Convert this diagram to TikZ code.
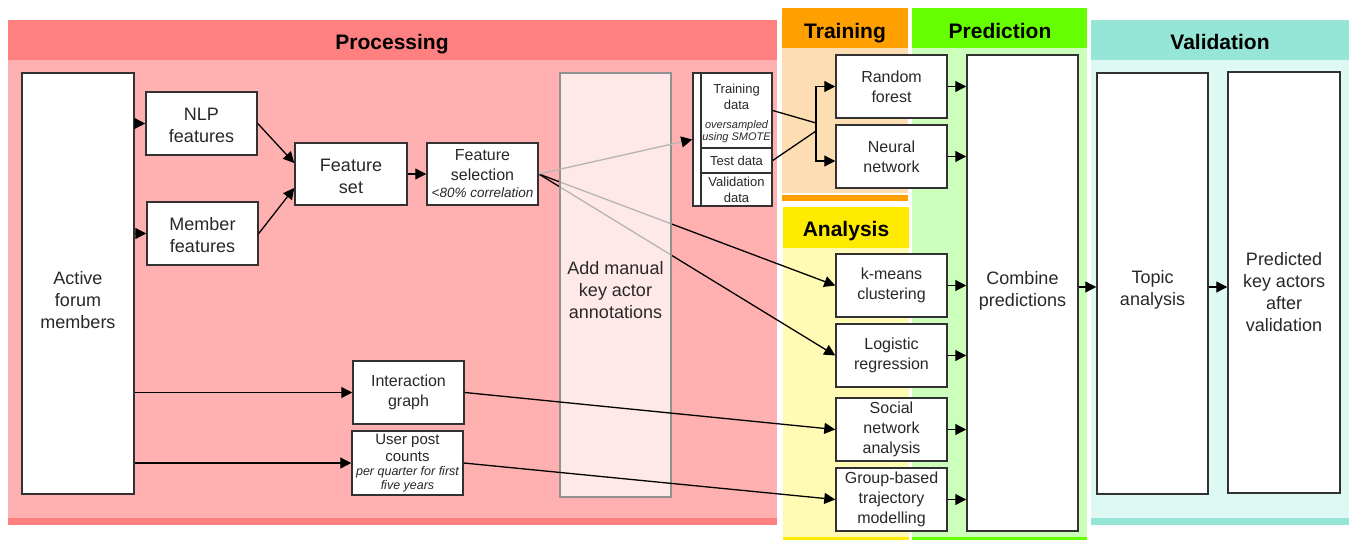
\documentclass[tikz,border=0pt]{standalone}
\usepackage{fontspec}
\setmainfont{Liberation Sans}
\usetikzlibrary{arrows.meta}
\newcommand{\smallnote}[2]{{\fontsize{#1}{#1}\selectfont\itshape #2}}
\begin{document}
\begin{tikzpicture}[x=1pt,y=-1pt,
  box/.style={draw=col_box, line width=1.5pt, fill=white, inner sep=0pt, align=center, text=col_text, font=\fontsize{16}{20}\selectfont},
  bigbox/.style={box, font=\fontsize{18}{22}\selectfont},
  cell/.style={box, font=\fontsize{13}{16}\selectfont},
  flow/.style={line width=1.3pt, -{Triangle[length=11pt,width=11pt]}},
  wire/.style={line width=1.3pt},
  head/.style={font=\bfseries\fontsize{21}{24}\selectfont}]
\useasboundingbox (0,0) rectangle (1349,540);
\definecolor{col_box}{RGB}{50, 50, 50}
\definecolor{col_text}{RGB}{40, 40, 40}
\definecolor{col_faint}{RGB}{181, 181, 181}
\definecolor{col_proc_head}{RGB}{255, 128, 128}
\definecolor{col_proc_body}{RGB}{255, 176, 176}
\definecolor{col_train_head}{RGB}{255, 160, 0}
\definecolor{col_train_body}{RGB}{253, 222, 178}
\definecolor{col_ana_head}{RGB}{255, 235, 0}
\definecolor{col_ana_body}{RGB}{255, 250, 180}
\definecolor{col_pred_head}{RGB}{102, 255, 0}
\definecolor{col_pred_body}{RGB}{204, 255, 187}
\definecolor{col_val_head}{RGB}{150, 230, 215}
\definecolor{col_val_body}{RGB}{222, 248, 243}
% panels
\fill[col_proc_body] (8,60) rectangle (777,518);
\fill[col_proc_head] (8,20) rectangle (777,60);
\fill[col_proc_head] (8,518) rectangle (777,525);
\node[head] (h proc) at (392,44) {Processing};
\fill[col_train_body] (782,48) rectangle (908,193);
\fill[col_train_head] (782,8) rectangle (908,48);
\fill[col_train_head] (782,195) rectangle (908,201);
\node[head] (h train) at (845,33) {Training};
\fill[col_ana_body] (783,248) rectangle (909,537);
\fill[col_ana_head] (783,207) rectangle (909,248);
\fill[col_ana_head] (783,537) rectangle (909,540);
\node[head] (h ana) at (846,231) {Analysis};
\fill[col_pred_body] (912,48) rectangle (1087,537);
\fill[col_pred_head] (912,8) rectangle (1087,48);
\fill[col_pred_head] (912,537) rectangle (1087,540);
\node[head] (h pred) at (1000,31) {Prediction};
\fill[col_val_body] (1091,60) rectangle (1349,518);
\fill[col_val_head] (1091,20) rectangle (1349,60);
\fill[col_val_head] (1091,518) rectangle (1349,525);
\node[head] (h val) at (1220,42) {Validation};
% processing
\node[bigbox, minimum width=112, minimum height=421] (active) at (78,283.5) {\rule{0pt}{47pt}Active\\forum\\members};
\node[bigbox, minimum width=111, minimum height=63] (nlp) at (201.5,123.5) {\rule{0pt}{17pt}NLP\\features};
\node[bigbox, minimum width=111, minimum height=63] (member) at (202.5,233.5) {\rule{0pt}{17pt}Member\\features};
\node[bigbox, minimum width=112, minimum height=62] (fset) at (351,174) {\rule{0pt}{17pt}Feature\\set};
\node[box, minimum width=111, minimum height=62] (fsel) at (482.5,174) {Feature\\selection\\[-3pt]\smallnote{13.5}{<80\% correlation}};
\node[box, minimum width=111, minimum height=63] (igraph) at (408.5,392.5) {Interaction\\graph};
\node[box, font=\fontsize{15}{17}\selectfont, minimum width=111, minimum height=64] (upc) at (407.5,463) {User post\\counts\\[-3pt]\smallnote{12.5}{per quarter for first}\\[-3pt]\smallnote{12.5}{five years}};
\node[box, minimum width=79, minimum height=133] (dbox) at (732.5,139.5) {};
\node[cell, minimum width=71, minimum height=75] (dtrain) at (736.5,110.5) {\rule{0pt}{15pt}Training\\data\\[3pt]\smallnote{11}{oversampled}\\[-4pt]\smallnote{11}{using SMOTE}};
\node[cell, minimum width=71, minimum height=25] (dtest) at (736.5,160.5) {Test data};
\node[cell, minimum width=71, minimum height=33] (dvalid) at (736.5,189.5) {Validation\\data};
% training, analysis, prediction, validation
\node[box, minimum width=111, minimum height=63] (rf) at (891.5,86.5) {Random\\forest};
\node[box, minimum width=111, minimum height=63] (nn) at (891.5,156.5) {Neural\\network};
\node[box, minimum width=111, minimum height=63] (kmeans) at (891.5,285.5) {k-means\\clustering};
\node[box, minimum width=111, minimum height=63] (logreg) at (891.5,355.5) {Logistic\\regression};
\node[box, minimum width=111, minimum height=63] (sna) at (891.5,429.5) {Social\\network\\analysis};
\node[box, minimum width=111, minimum height=63] (gbtm) at (891.5,499.5) {Group-based\\trajectory\\modelling};
\node[bigbox, minimum width=111, minimum height=476] (comb) at (1022.5,293) {Combine\\predictions\rule[-9pt]{0pt}{0pt}};
\node[bigbox, minimum width=111, minimum height=421] (topic) at (1152.5,283.5) {\rule{0pt}{25pt}Topic\\analysis};
\node[bigbox, minimum width=112, minimum height=421] (pred) at (1284,282.5) {\rule{0pt}{33pt}Predicted\\key actors\\after\\validation};
% connectors
\draw[flow] (nlp.west -| active.east) -- (nlp.west);
\draw[flow] (member.west -| active.east) -- (member.west);
\draw[flow] (igraph.west -| active.east) -- (igraph.west);
\draw[flow] (upc.west -| active.east) -- (upc.west);
\draw[flow] (nlp.east) -- ([yshift=11pt]fset.west);
\draw[flow] (member.east) -- ([yshift=-14pt]fset.west);
\draw[flow] (fset) -- (fsel);
\draw[flow] (fsel.east) -- (kmeans.west);
\draw[flow] (fsel.east) -- (logreg.west);
\node[box, fill=white, fill opacity=0.71, text opacity=1, draw=col_faint!80!black, font=\fontsize{18}{22}\selectfont, minimum width=111, minimum height=424] (annot) at (615.5,285) {\rule{0pt}{23pt}Add manual\\key actor\\annotations};
\draw[line width=1.3pt, draw=col_faint, -{Triangle[length=11pt,width=11pt,color=black]}] (fsel.east) -- (dbox.west);
\draw[flow] (igraph.east) -- (sna.west);
\draw[flow] (upc.east) -- (gbtm.west);
\coordinate (fork a) at (816,123);
\coordinate (fork b) at (816,131);
\draw[wire] (dtrain.east) -- (fork a);
\draw[wire] (dtest.east) -- (fork b);
\draw[flow] (fork b) |- (rf.west);
\draw[flow] (fork a) |- ([yshift=-4.5pt]nn.west);
\draw[flow] (rf.east) -- (rf.east -| comb.west);
\draw[flow] (nn.east) -- (nn.east -| comb.west);
\draw[flow] (kmeans.east) -- (kmeans.east -| comb.west);
\draw[flow] (logreg.east) -- (logreg.east -| comb.west);
\draw[flow] (sna.east) -- (sna.east -| comb.west);
\draw[flow] (gbtm.east) -- (gbtm.east -| comb.west);
\draw[flow] ([yshift=-3.5pt]topic.west -| comb.east) -- ([yshift=-3.5pt]topic.west);
\draw[flow] ([yshift=-3.5pt]topic.east) -- ([yshift=-3.5pt]topic.east -| pred.west);
\end{tikzpicture}
\end{document}
